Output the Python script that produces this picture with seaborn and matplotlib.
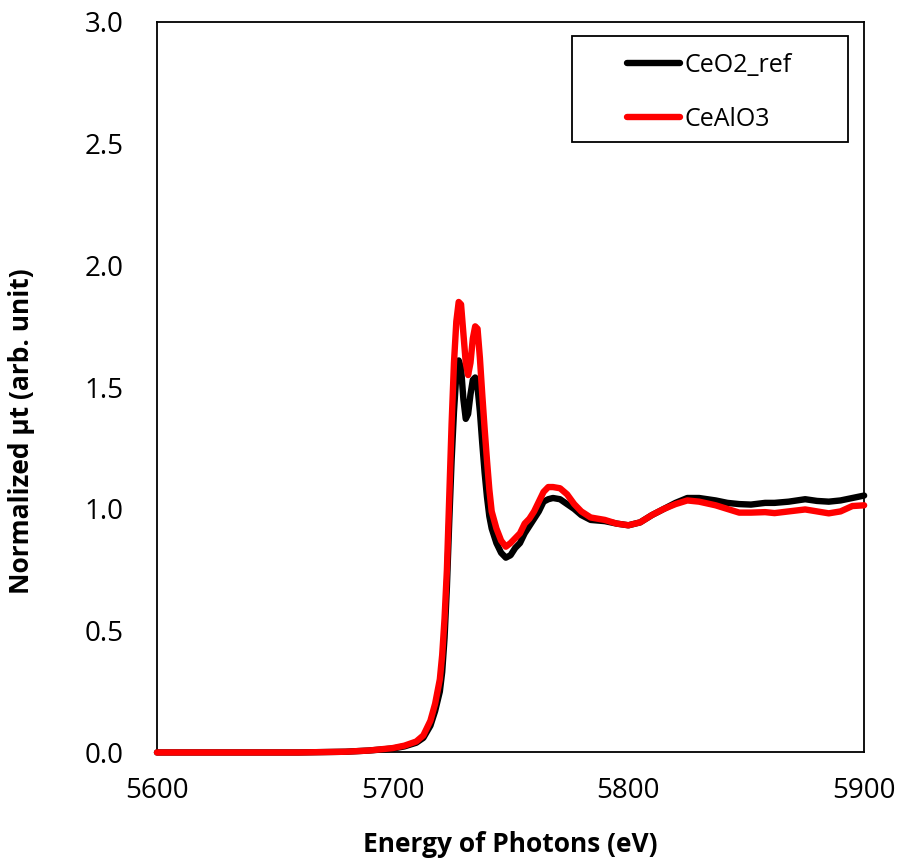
"""
Ce L3-edge XANES: CeO2 reference vs CeAlO3
"""
import matplotlib
matplotlib.use('Agg')
import matplotlib.pyplot as plt
from matplotlib.patches import Rectangle
import numpy as np
import pandas as pd
import seaborn as sns

sns.set_style('white')
plt.rcParams['font.family'] = ['Open Sans', 'DejaVu Sans']
plt.rcParams['text.color'] = 'black'
plt.rcParams['axes.labelcolor'] = 'black'

# 数据
energy = [5600, 5620, 5640, 5660, 5680, 5690, 5700, 5705, 5710, 5713,
          5716, 5718, 5720, 5721, 5722, 5723, 5724, 5725, 5726, 5727,
          5728, 5729, 5730, 5731, 5732, 5733, 5734, 5735, 5736, 5737,
          5738, 5739, 5740, 5741, 5742, 5744, 5746, 5748, 5750, 5752,
          5754, 5756, 5758, 5760, 5762, 5764, 5766, 5768, 5771, 5774,
          5777, 5780, 5784, 5790, 5795, 5800, 5805, 5810, 5815, 5820,
          5825, 5830, 5837, 5842, 5847, 5852, 5858, 5862, 5868, 5875,
          5880, 5885, 5890, 5895, 5900]

ceo2_ref = [0.0, 0.0, 0.0, 0.0, 0.003, 0.008, 0.016, 0.025, 0.04, 0.06,
            0.11, 0.17, 0.25, 0.33, 0.47, 0.68, 0.95, 1.2, 1.4, 1.55,
            1.61, 1.58, 1.45, 1.37, 1.39, 1.47, 1.53, 1.54, 1.5, 1.4,
            1.27, 1.15, 1.05, 0.97, 0.92, 0.86, 0.82, 0.80, 0.81, 0.84,
            0.86, 0.9, 0.93, 0.96, 0.99, 1.03, 1.04, 1.045, 1.04, 1.02,
            1.0, 0.975, 0.955, 0.95, 0.94, 0.933, 0.945, 0.975, 1.0, 1.025,
            1.045, 1.045, 1.035, 1.025, 1.02, 1.018, 1.025, 1.025, 1.03, 1.04,
            1.033, 1.03, 1.035, 1.045, 1.055]

cealo3 = [0.0, 0.0, 0.0, 0.0, 0.003, 0.008, 0.018, 0.028, 0.045, 0.07,
          0.13, 0.2, 0.3, 0.4, 0.55, 0.75, 1.05, 1.35, 1.6, 1.77,
          1.85, 1.84, 1.72, 1.6, 1.55, 1.6, 1.7, 1.75, 1.74, 1.62,
          1.47, 1.33, 1.2, 1.08, 0.99, 0.92, 0.87, 0.845, 0.86, 0.88,
          0.9, 0.94, 0.96, 0.99, 1.03, 1.07, 1.09, 1.09, 1.085, 1.06,
          1.02, 0.99, 0.965, 0.955, 0.94, 0.933, 0.945, 0.975, 1.0, 1.02,
          1.035, 1.03, 1.015, 1.0, 0.985, 0.985, 0.987, 0.983, 0.99, 0.998,
          0.99, 0.982, 0.99, 1.012, 1.015]

x_ticks = [5600, 5700, 5800, 5900]
y_ticks = [0.0, 0.5, 1.0, 1.5, 2.0, 2.5, 3.0]

df = pd.DataFrame({'energy': energy, 'CeO2_ref': ceo2_ref, 'CeAlO3': cealo3})

fig = plt.figure(figsize=(8.99, 8.58), dpi=100)
ax = fig.add_axes([0.1746, 0.123, 0.7866, 0.8514])

sns.lineplot(data=df, x='energy', y='CeO2_ref', ax=ax, color='black',
             lw=4.6, label='CeO2_ref', zorder=3, clip_on=False)
sns.lineplot(data=df, x='energy', y='CeAlO3', ax=ax, color='#ff0000',
             lw=4.6, label='CeAlO3', zorder=4, clip_on=False)

ax.set_xlim(5600, 5900)
ax.set_ylim(0, 3.0)
ax.set_xticks(x_ticks)
ax.set_yticks(y_ticks)
ax.set_yticklabels([f'{v:.1f}' for v in y_ticks])
ax.tick_params(axis='both', direction='in', length=7, width=1.2,
               labelsize=20, colors='black')
ax.tick_params(axis='y', pad=24)
ax.tick_params(axis='x', pad=18)
for s in ax.spines.values():
    s.set_color('black')
    s.set_linewidth(1.3)

ax.set_xlabel('Energy of Photons (eV)', fontsize=19, fontweight='bold')
ax.set_ylabel('Normalized μt (arb. unit)', fontsize=19, fontweight='bold')
ax.xaxis.set_label_coords(0.5, -0.107)
ax.yaxis.set_label_coords(-0.172, 0.44)

# 图例
leg = ax.legend(loc='upper left', bbox_to_anchor=(0.665, 0.958),
                frameon=False, fontsize=18, handlelength=2.1,
                handletextpad=0.2, labelspacing=1.17,
                borderpad=0, borderaxespad=0)
for line in leg.get_lines():
    line.set_linewidth(4.6)
for t in leg.get_texts():
    t.set_color('black')
ax.add_patch(Rectangle((0.587, 0.836), 0.39, 0.145, transform=ax.transAxes,
                       fill=False, edgecolor='black', lw=1.3, zorder=5))

plt.savefig('out.png', dpi=100)
plt.close()
